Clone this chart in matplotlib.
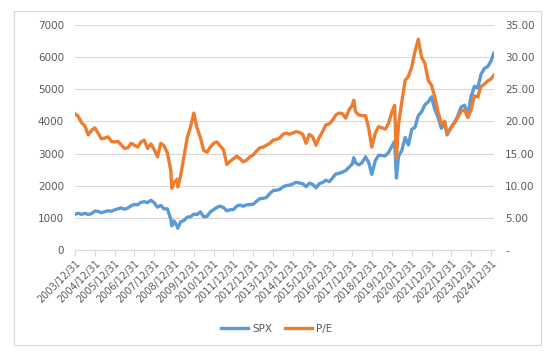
import pandas as pd
import matplotlib
matplotlib.use("Agg")
import matplotlib.pyplot as plt
import matplotlib.dates as mdates
from matplotlib.patches import Rectangle

# roughly bi-monthly readings
dates = [
    "2003-12-31",
    "2004-02-27", "2004-04-30", "2004-06-30", "2004-08-31", "2004-10-29", "2004-12-31",
    "2005-02-28", "2005-04-29", "2005-06-30", "2005-08-31", "2005-10-31", "2005-12-30",
    "2006-02-28", "2006-04-28", "2006-06-30", "2006-08-31", "2006-10-31", "2006-12-29",
    "2007-02-28", "2007-04-30", "2007-06-29", "2007-08-31", "2007-10-31", "2007-12-31",
    "2008-02-29", "2008-04-30", "2008-06-30", "2008-08-29", "2008-10-31", "2008-11-20", "2008-12-31",
    "2009-02-27", "2009-03-09", "2009-04-30", "2009-06-30", "2009-08-31", "2009-10-30", "2009-12-31",
    "2010-02-26", "2010-04-30", "2010-06-30", "2010-08-31", "2010-10-29", "2010-12-31",
    "2011-02-28", "2011-04-29", "2011-06-30", "2011-08-31", "2011-10-31", "2011-12-30",
    "2012-02-29", "2012-04-30", "2012-06-29", "2012-08-31", "2012-10-31", "2012-12-31",
    "2013-02-28", "2013-04-30", "2013-06-28", "2013-08-30", "2013-10-31", "2013-12-31",
    "2014-02-28", "2014-04-30", "2014-06-30", "2014-08-29", "2014-10-31", "2014-12-31",
    "2015-02-27", "2015-04-30", "2015-06-30", "2015-08-31", "2015-10-30", "2015-12-31",
    "2016-02-29", "2016-04-29", "2016-06-30", "2016-08-31", "2016-10-31", "2016-12-30",
    "2017-02-28", "2017-04-28", "2017-06-30", "2017-08-31", "2017-10-31", "2017-12-29",
    "2018-01-26", "2018-02-28", "2018-04-30", "2018-06-29", "2018-08-31", "2018-10-31", "2018-12-24",
    "2019-02-28", "2019-04-30", "2019-06-28", "2019-08-30", "2019-10-31", "2019-12-31",
    "2020-02-19", "2020-03-23", "2020-04-30", "2020-06-30", "2020-08-31", "2020-10-30", "2020-12-31",
    "2021-02-26", "2021-04-30", "2021-06-30", "2021-08-31", "2021-10-29", "2021-12-31",
    "2022-02-28", "2022-04-29", "2022-06-30", "2022-08-31", "2022-10-12", "2022-12-30",
    "2023-02-28", "2023-04-28", "2023-06-30", "2023-08-31", "2023-10-31", "2023-12-29",
    "2024-02-29", "2024-04-30", "2024-06-28", "2024-08-30", "2024-10-31", "2024-12-31",
    "2025-02-19",
]

spx = [
    1112,
    1145, 1107, 1141, 1104, 1130, 1212,
    1204, 1157, 1191, 1220, 1207, 1248,
    1281, 1311, 1270, 1304, 1378, 1418,
    1407, 1482, 1503, 1474, 1549, 1468,
    1331, 1386, 1280, 1283, 969, 752, 903,
    735, 677, 873, 919, 1021, 1036, 1115,
    1104, 1187, 1031, 1049, 1183, 1258,
    1327, 1364, 1321, 1219, 1253, 1258,
    1366, 1398, 1362, 1407, 1412, 1426,
    1515, 1598, 1606, 1633, 1757, 1848,
    1859, 1884, 1960, 2003, 2018, 2059,
    2105, 2086, 2063, 1972, 2079, 2044,
    1932, 2065, 2099, 2171, 2126, 2239,
    2364, 2384, 2423, 2472, 2575, 2674,
    2872, 2714, 2648, 2718, 2902, 2712, 2351,
    2784, 2946, 2942, 2926, 3038, 3231,
    3386, 2237, 2912, 3100, 3500, 3270, 3756,
    3811, 4181, 4298, 4523, 4605, 4766,
    4374, 4132, 3785, 3955, 3577, 3840,
    3970, 4169, 4450, 4508, 4194, 4770,
    5096, 5036, 5460, 5648, 5705, 5882,
    6120,
]

pe = [
    21.2,
    20.8, 19.8, 19.3, 17.9, 18.6, 19.0,
    18.2, 17.3, 17.4, 17.6, 16.9, 16.8,
    16.9, 16.4, 15.8, 15.9, 16.6, 16.3,
    16.0, 16.8, 17.1, 15.8, 16.5, 15.6,
    14.5, 16.6, 16.2, 15.1, 12.4, 9.6, 10.5,
    11.0, 9.8, 11.5, 14.5, 17.5, 19.1, 21.3,
    19.0, 17.5, 15.5, 15.2, 16.0, 16.6,
    16.8, 16.2, 15.6, 13.3, 13.8, 14.2,
    14.6, 14.2, 13.7, 14.0, 14.5, 14.8,
    15.4, 15.9, 16.0, 16.3, 16.6, 17.1,
    17.2, 17.4, 18.0, 18.2, 18.0, 18.2,
    18.4, 18.3, 18.0, 16.6, 18.0, 17.6,
    16.3, 17.5, 18.4, 19.5, 19.6, 20.2,
    21.0, 21.3, 21.2, 20.5, 21.8, 22.5,
    23.3, 21.5, 21.0, 20.9, 20.9, 18.8, 16.0,
    18.2, 19.2, 19.0, 18.8, 19.7, 21.5,
    22.5, 14.3, 19.5, 23.0, 26.4, 27.0, 28.5,
    30.8, 32.8, 30.0, 29.0, 26.4, 25.6,
    23.8, 21.5, 19.6, 20.0, 18.1, 19.0,
    19.8, 20.6, 21.6, 21.8, 20.6, 21.8,
    24.0, 23.8, 25.4, 25.8, 26.3, 26.6,
    27.2,
]

tick_dates = [f"{y}-12-31" for y in range(2003, 2025)]

blue = "#5B9BD5"
orange = "#ED7D31"
grey_txt = "#595959"
grid_c = "#D9D9D9"

x = pd.to_datetime(dates)
ticks = pd.to_datetime(tick_dates)

plt.rcParams["font.family"] = ["DejaVu Sans"]

fig = plt.figure(figsize=(5.5, 3.55), dpi=100)
fig.patches.append(Rectangle((14 / 550, 1 - 345 / 355), 527 / 550, 334 / 355,
                             transform=fig.transFigure, fill=False,
                             edgecolor=grid_c, linewidth=0.8))
ax = fig.add_axes([75 / 550, 1 - 250 / 355, 419 / 550, 225 / 355])
ax2 = ax.twinx()

l1, = ax.plot(x, spx, color=blue, linewidth=2.4, label="SPX")
l2, = ax2.plot(x, pe, color=orange, linewidth=2.4, label="P/E")

ax.set_ylim(0, 7000)
ax.set_yticks(range(0, 7001, 1000))
ax2.set_ylim(0, 35)
ax2.set_yticks(range(0, 36, 5))
ax2.set_yticklabels(["-"] + [f"{v:.2f}" for v in range(5, 36, 5)])

ax.set_xlim(pd.Timestamp("2003-12-31"), pd.Timestamp("2025-02-24"))
ax.set_xticks(ticks)
ax.xaxis.set_major_formatter(mdates.DateFormatter("%Y/%m/%d"))
for lab in ax.get_xticklabels():
    lab.set_rotation(45)
    lab.set_ha("right")
    lab.set_va("top")
    lab.set_rotation_mode("anchor")

ax.grid(axis="y", color=grid_c, linewidth=0.8)
ax.set_axisbelow(True)
for a in (ax, ax2):
    for s in ("left", "right", "top"):
        a.spines[s].set_visible(False)
    a.spines["bottom"].set_color(grid_c)
ax2.spines["bottom"].set_visible(False)

ax.tick_params(axis="x", colors=grey_txt, labelsize=7, length=4, color=grid_c, pad=2)
ax.tick_params(axis="y", colors=grey_txt, labelsize=7.5, length=0, pad=8)
ax2.tick_params(axis="y", colors=grey_txt, labelsize=7.5, length=0, pad=8)

fig.legend(handles=[l1, l2], loc="center", bbox_to_anchor=(277 / 550, 1 - 329 / 355),
           ncol=2, frameon=False, fontsize=7.5, labelcolor=grey_txt,
           handlelength=2.6, columnspacing=1.2, handletextpad=0.4)

fig.savefig("out.png", dpi=100)
